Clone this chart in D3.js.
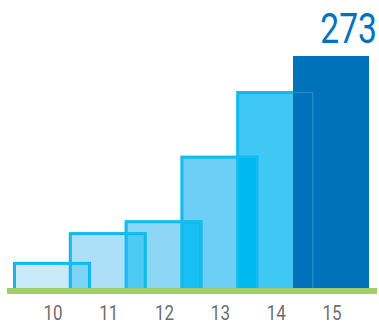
<!DOCTYPE html>
<html><head><meta charset="utf-8">
<script src="https://cdn.jsdelivr.net/npm/d3@7"></script>
<style>html,body{margin:0;padding:0;background:#fff;}svg{display:block;}</style>
</head><body>
<svg id="c" width="379" height="325"></svg>
<script>
const categories = ["10", "11", "12", "13", "14", "15"];
const values = [29, 64, 78, 154, 230, 273];
const fills = ["#c8eaf9", "#addff9", "#8ed6f6", "#6dcff6", "#40c8f4", "#0072bc"];
const overlapFills = [null, "#7dd3f5", "#4fcaf4", "#17bff2", "#00b9f0", "#0072bc"];
const valueLabel = "273";

const svg = d3.select("#c");
const baseY = 288;
const x = d3.scalePoint().domain(categories).range([52, 331]);
const y = d3.scaleLinear().domain([0, 273]).range([baseY, 56]);
const barW = 75, sw = 3;
const data = categories.map((c, i) => ({c, v: values[i], i}));
const last = data.length - 1;
const cyanBars = data.slice(0, last);

// fills of light bars
svg.append("g").selectAll("rect").data(cyanBars).join("rect")
  .attr("x", d => x(d.c) - barW / 2)
  .attr("y", d => y(d.v))
  .attr("width", barW)
  .attr("height", d => baseY - y(d.v) + 2)
  .attr("fill", d => fills[d.i]);

// overlap regions between consecutive light bars
svg.append("g").selectAll("rect").data(cyanBars.slice(1)).join("rect")
  .attr("x", d => x(d.c) - barW / 2)
  .attr("y", d => y(Math.min(d.v, values[d.i - 1])))
  .attr("width", d => (x(categories[d.i - 1]) + barW / 2) - (x(d.c) - barW / 2))
  .attr("height", d => baseY - y(Math.min(d.v, values[d.i - 1])) + 2)
  .attr("fill", d => overlapFills[d.i]);

// outlines
svg.append("g").selectAll("rect").data(cyanBars).join("rect")
  .attr("x", d => x(d.c) - barW / 2)
  .attr("y", d => y(d.v))
  .attr("width", barW)
  .attr("height", d => baseY - y(d.v) + 2)
  .attr("fill", "none")
  .attr("stroke", "#00bbf1")
  .attr("stroke-width", sw);

// last (dark) bar
const lb = data[last];
const lastW = 76;
svg.append("rect")
  .attr("x", x(lb.c) - lastW / 2)
  .attr("y", y(lb.v))
  .attr("width", lastW)
  .attr("height", baseY - y(lb.v) + 2)
  .attr("fill", fills[last]);

// faint outlines showing through the dark bar
svg.append("g").selectAll("rect").data(cyanBars).join("rect")
  .attr("x", d => x(d.c) - barW / 2)
  .attr("y", d => y(d.v))
  .attr("width", barW)
  .attr("height", d => baseY - y(d.v) + 2)
  .attr("fill", "none")
  .attr("stroke", "#5ab4e6")
  .attr("stroke-opacity", 0.35)
  .attr("stroke-width", 1.5);

// baseline
svg.append("rect").attr("x", 7).attr("y", baseY).attr("width", 370).attr("height", 6).attr("fill", "#a3cf62");

// tick labels
svg.append("g").selectAll("text").data(categories).join("text")
  .attr("transform", d => `translate(${x(d) + 1},320) scale(0.85,1)`)
  .attr("text-anchor", "middle")
  .attr("font-family", "Roboto")
  .attr("font-size", 20)
  .attr("fill", "#6d6e71")
  .text(d => d);

// value label
svg.append("text")
  .attr("transform", "translate(377,42.5) scale(0.8,1)")
  .attr("text-anchor", "end")
  .attr("font-family", "Roboto")
  .attr("font-size", 42)
  .attr("fill", "#0072bc")
  .text(valueLabel);
</script>
</body></html>
